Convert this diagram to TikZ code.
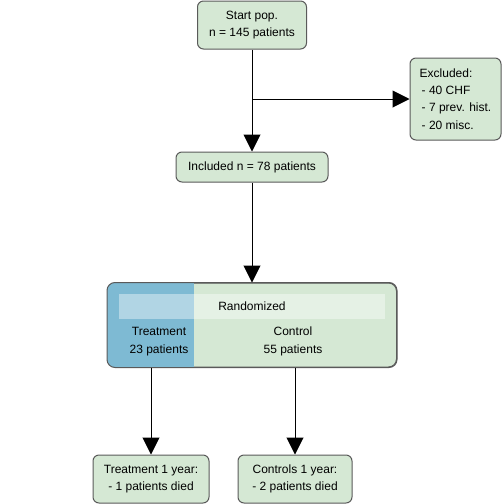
\documentclass[tikz,border=0pt]{standalone}
\usepackage{fontspec}
\setmainfont{Liberation Sans}
\usetikzlibrary{arrows.meta}

\definecolor{boxfill}{RGB}{213,232,212}
\definecolor{boxline}{RGB}{90,90,90}
\definecolor{treatblue}{RGB}{126,186,211}

\tikzset{every picture/.style={line width=0.75pt}}
\tikzset{
  box/.style={draw=boxline, fill=boxfill, rounded corners=4.5pt, align=center, inner sep=0.75pt, font=\fontsize{9}{13}\selectfont},
  lbl/.style={align=center, inner sep=0.75pt, font=\fontsize{9}{13}\selectfont},
  flow/.style={draw=black, -{Triangle[length=12.75pt,width=12.75pt]}},
}

\begin{document}
\begin{tikzpicture}[x=0.75pt,y=0.75pt,yscale=-1,xscale=1]
\useasboundingbox (0,0) rectangle (504,504);

% Boxes
\node[box, minimum width=81.75pt, minimum height=36pt] (start) at (252,25) {Start pop.\\n = 145 patients};
\node[box, minimum width=68.25pt, minimum height=61.5pt, align=left] (excl) at (455.5,99) {Excluded:\\\,- 40 CHF\\\,- 7 prev. hist.\\\,- 20 misc.};
\node[box, minimum width=114pt, minimum height=22.5pt] (incl) at (252,167) {Included n = 78 patients};

%Randomized container
\node[box, rounded corners=6pt, minimum width=216.75pt, minimum height=63pt] (rand) at (252,325) {};
\begin{scope}
\clip[rounded corners=6pt] (rand.north west) rectangle (rand.south east);
\fill[treatblue] (rand.north west) rectangle (194,367);
\end{scope}
\draw[boxline, rounded corners=6pt] (rand.north west) rectangle (rand.south east);
\node[lbl, fill=white, fill opacity=0.4, text opacity=1, minimum width=199.5pt, minimum height=18.75pt] (randhead) at (252,306.5) {Randomized};
\node[lbl] (treat) at (159,341.5) {Treatment\\23 patients};
\node[lbl] (ctrl) at (293,341.5) {Control\\55 patients};

\node[box, minimum width=87pt, minimum height=36pt] (t1y) at (151,479) {Treatment 1 year:\\- 1 patients died};
\node[box, minimum width=85.5pt, minimum height=36pt] (c1y) at (295,479) {Controls 1 year:\\- 2 patients died};

% Connectors
\coordinate (split) at (start.south |- excl.west);
\coordinate (treatout) at (rand.south -| t1y.north);
\coordinate (ctrlout) at (rand.south -| c1y.north);
\draw[flow] (start) -- (incl);
\draw[flow] (split) -- (excl.west);
\draw[flow] (incl) -- (rand);
\draw[flow] (treatout) -- (t1y.north);
\draw[flow] (ctrlout) -- (c1y.north);

\end{tikzpicture}
\end{document}
